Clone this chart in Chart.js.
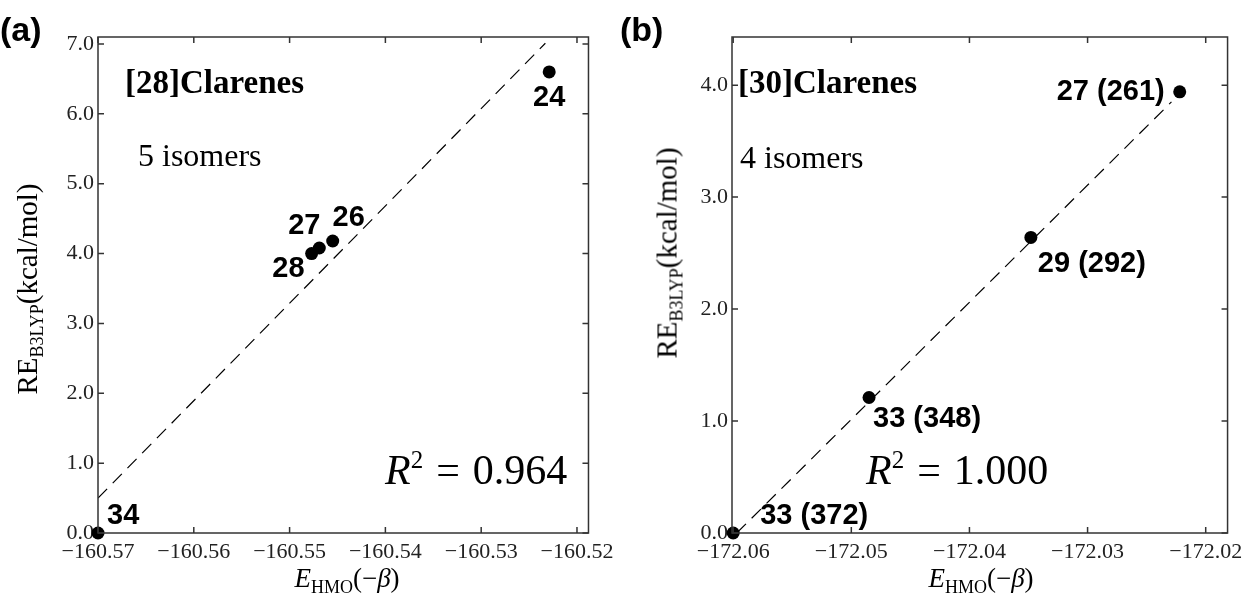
<!DOCTYPE html>
<html>
<head>
<meta charset="utf-8">
<script src="https://cdn.jsdelivr.net/npm/chart.js@4.4.1/dist/chart.umd.min.js"></script>
<style>
  body { margin: 0; background: #fff; }
  #page { position: relative; width: 1249px; height: 594px; overflow: hidden; font-family: "Liberation Serif", serif; color: #000; }
  canvas { position: absolute; top: 0; }
  .t { position: absolute; white-space: nowrap; line-height: 1; }
  .panel { font-family: "Liberation Sans", Arial, sans-serif; font-weight: bold; font-size: 34px; }
  .title { font-weight: bold; font-size: 33px; transform: translateY(-50%); }
  .iso { font-size: 32px; transform: translateY(-50%); }
  .r2 { font-size: 42px; transform: translateY(-50%); }
  .r2 sup { font-size: 25px; vertical-align: 16px; line-height: 0; }
  .eq { margin: 0 13px; }
  .ylab { font-size: 29px; transform: translate(-50%, -50%) rotate(-90deg); }
  .xlab { font-size: 27px; transform: translate(-50%, -50%); }
  sub { font-size: 18px; vertical-align: -6px; line-height: 0; }
</style>
</head>
<body>
<div id="page">
  <canvas id="chartA" width="620" height="594" style="left:0"></canvas>
  <canvas id="chartB" width="629" height="594" style="left:620px"></canvas>

  <div class="t panel" style="left:0px; top:12px">(a)</div>
  <div class="t panel" style="left:620px; top:12px">(b)</div>

  <div class="t title" style="left:125px; top:82px">[28]Clarenes</div>
  <div class="t iso" style="left:138px; top:155px">5 isomers</div>
  <div class="t r2" style="left:385px; top:470px"><i>R</i><sup>2</sup><span class="eq">=</span>0.964</div>

  <div class="t title" style="left:738px; top:82px">[30]Clarenes</div>
  <div class="t iso" style="left:740px; top:157px">4 isomers</div>
  <div class="t r2" style="left:866px; top:470px"><i>R</i><sup>2</sup><span class="eq">=</span>1.000</div>

  <div class="t ylab" style="left:27px; top:289px">RE<sub>B3LYP</sub>(kcal/mol)</div>
  <div class="t ylab" style="left:667px; top:253px">RE<sub>B3LYP</sub>(kcal/mol)</div>
  <div class="t xlab" style="left:347px; top:578px"><i>E</i><sub>HMO</sub>(−<i>β</i>)</div>
  <div class="t xlab" style="left:981px; top:578px"><i>E</i><sub>HMO</sub>(−<i>β</i>)</div>
</div>
<script>
// panel (a): [28]Clarenes
const aLabels = ['34', '28', '27', '26', '24'];
const aX = [-160.57, -160.5477, -160.5469, -160.5455, -160.5229];
const aY = [0.0, 4.00, 4.08, 4.18, 6.60];
const aFitX = [-160.57, -160.5233];
const aFitY = [0.50, 7.01];
const aXTicks = [-160.57, -160.56, -160.55, -160.54, -160.53, -160.52];
const aYTicks = [0, 1, 2, 3, 4, 5, 6, 7];

// panel (b): [30]Clarenes
const bLabels = ['33 (372)', '33 (348)', '29 (292)', '27 (261)'];
const bX = [-172.0600, -172.0485, -172.0348, -172.0222];
const bY = [0.0, 1.21, 2.64, 3.94];
const bFitX = [-172.0597, -172.0229];
const bFitY = [0.0, 3.85];
const bXTicks = [-172.06, -172.05, -172.04, -172.03, -172.02];
const bYTicks = [0, 1, 2, 3, 4];

// where each point label sits relative to its dot
const aLabelPos = [
    { dx: 9, dy: -17, align: 'left' },
    { dx: -7, dy: 15, align: 'right' },
    { dx: -15, dy: -22, align: 'center' },
    { dx: 16, dy: -23, align: 'center' },
    { dx: 0, dy: 26, align: 'center' }
];
const bLabelPos = [
    { dx: 27, dy: -17, align: 'left' },
    { dx: 4, dy: 21, align: 'left' },
    { dx: 7, dy: 27, align: 'left' },
    { dx: -15, dy: 0, align: 'right' }
];

const tickFont = { family: '"Liberation Serif", "Times New Roman", serif', size: 22 };
const fmt = (v, d) => (v < 0 ? '\u2212' : '') + Math.abs(v).toFixed(d);

const framePlugin = {
    id: 'frame',
    afterDraw(chart) {
        const ctx = chart.ctx;
        const a = chart.chartArea;
        const xs = chart.scales.x, ys = chart.scales.y;
        ctx.save();
        ctx.strokeStyle = '#333';
        ctx.lineWidth = 1.5;
        ctx.strokeRect(a.left, a.top, a.right - a.left, a.bottom - a.top);
        ctx.beginPath();
        xs.ticks.forEach(t => {
            const px = xs.getPixelForValue(t.value);
            ctx.moveTo(px, a.bottom); ctx.lineTo(px, a.bottom - 6);
            ctx.moveTo(px, a.top); ctx.lineTo(px, a.top + 6);
        });
        ys.ticks.forEach(t => {
            const py = ys.getPixelForValue(t.value);
            ctx.moveTo(a.left, py); ctx.lineTo(a.left + 6, py);
            ctx.moveTo(a.right, py); ctx.lineTo(a.right - 6, py);
        });
        ctx.stroke();

        // point labels
        const meta = chart.getDatasetMeta(1);
        const labels = chart.options.plugins.frame.labels;
        const pos = chart.options.plugins.frame.pos;
        ctx.fillStyle = '#000';
        ctx.font = 'bold 29px "Liberation Sans", Arial, sans-serif';
        ctx.textBaseline = 'middle';
        meta.data.forEach((pt, i) => {
            ctx.textAlign = pos[i].align;
            ctx.fillText(labels[i], pt.x + pos[i].dx, pt.y + pos[i].dy);
        });
        ctx.restore();
    }
};

function makeChart(id, cfg) {
    const points = cfg.x.map((x, i) => ({ x: x, y: cfg.y[i] }));
    const fit = cfg.fitX.map((x, i) => ({ x: x, y: cfg.fitY[i] }));
    return new Chart(document.getElementById(id), {
        type: 'scatter',
        data: {
            datasets: [{
                type: 'line',
                data: fit,
                showLine: true,
                borderColor: '#000',
                borderWidth: 1.2,
                borderDash: [13, 8],
                pointRadius: 0,
                fill: false,
                order: 2
            }, {
                data: points,
                backgroundColor: '#000',
                borderWidth: 0,
                pointRadius: 6.5,
                clip: false,
                order: 1
            }]
        },
        options: {
            responsive: false,
            animation: false,
            layout: { padding: { top: 37, right: cfg.padRight, left: 0, bottom: 0 } },
            plugins: {
                legend: { display: false },
                tooltip: { enabled: false },
                frame: { labels: cfg.labels, pos: cfg.pos }
            },
            scales: {
                x: {
                    type: 'linear',
                    min: cfg.xMin,
                    max: cfg.xMax,
                    grid: { display: false, drawTicks: false },
                    border: { display: false },
                    afterBuildTicks: s => { s.ticks = cfg.xTicks.map(v => ({ value: v })); },
                    afterFit: s => { s.height = 61; },
                    ticks: {
                        font: tickFont, color: '#222', padding: 6,
                        maxRotation: 0, autoSkip: false,
                        callback: v => fmt(v, 2)
                    }
                },
                y: {
                    type: 'linear',
                    min: 0,
                    max: cfg.yMax,
                    grid: { display: false, drawTicks: false },
                    border: { display: false },
                    afterBuildTicks: s => { s.ticks = cfg.yTicks.map(v => ({ value: v })); },
                    afterFit: s => { s.width = cfg.yWidth; },
                    ticks: {
                        font: tickFont, color: '#222', padding: 4,
                        callback: v => fmt(v, 1)
                    }
                }
            }
        },
        plugins: [framePlugin]
    });
}

makeChart('chartA', {
    x: aX, y: aY, fitX: aFitX, fitY: aFitY, labels: aLabels, pos: aLabelPos,
    xTicks: aXTicks, yTicks: aYTicks,
    xMin: -160.57, xMax: -160.5188, yMax: 7.1, yWidth: 98, padRight: 24
});

makeChart('chartB', {
    x: bX, y: bY, fitX: bFitX, fitY: bFitY, labels: bLabels, pos: bLabelPos,
    xTicks: bXTicks, yTicks: bYTicks,
    xMin: -172.0601, xMax: -172.01815, yMax: 4.43, yWidth: 112, padRight: 19
});
</script>
</body>
</html>
